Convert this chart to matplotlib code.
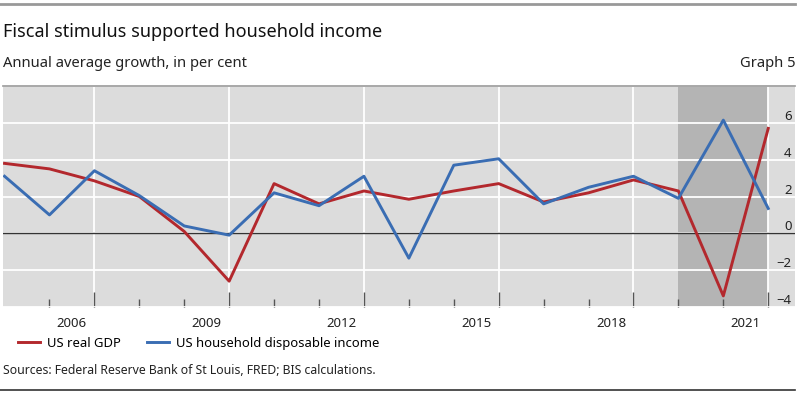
"""
Fiscal stimulus supported household income: US real GDP vs household disposable income growth.
"""

import matplotlib
matplotlib.use("Agg")
import matplotlib.pyplot as plt
from matplotlib.lines import Line2D

plt.rcParams['font.family'] = ['Noto Sans', 'DejaVu Sans']

# Data (annual growth, per cent).
years = [2004, 2005, 2006, 2007, 2008, 2009, 2010, 2011, 2012, 2013,
         2014, 2015, 2016, 2017, 2018, 2019, 2020, 2021]
real_gdp = [3.8, 3.5, 2.85, 2.0, 0.1, -2.6, 2.7, 1.6, 2.3, 1.85,
            2.3, 2.7, 1.7, 2.2, 2.9, 2.3, -3.4, 5.7]
disp_income = [3.1, 1.0, 3.4, 2.05, 0.4, -0.1, 2.2, 1.5, 3.1, -1.35,
               3.7, 4.05, 1.6, 2.5, 3.1, 1.9, 6.15, 1.35]
label_years = [2006, 2009, 2012, 2015, 2018, 2021]
yticks = [-4, -2, 0, 2, 4, 6]
shade = (2019, 2021)

RED = "#b3282d"
BLUE = "#3a6db3"

fig = plt.figure(figsize=(8, 3.93), dpi=100)
ax = fig.add_axes([0.004, 0.219, 0.99, 0.562])
ax.set_facecolor("#dcdcdc")

ax.axvspan(shade[0], shade[1], color="#b4b4b4", zorder=0.5, lw=0)
ax.axhline(0, color="#333333", lw=1.0, zorder=1.5)
ax.plot(years, real_gdp, color=RED, lw=2.1, zorder=3, label="US real GDP")
ax.plot(years, disp_income, color=BLUE, lw=2.1, zorder=3,
        label="US household disposable income")

ax.set_xlim(2003.97, 2021.6)
ax.set_ylim(-4, 8)

# Grid
ax.set_axisbelow(True)
ax.set_xticks(label_years)
ax.set_xticks(years[1:], minor=True)
ax.set_yticks(yticks + [8])
ax.grid(True, which="major", color="white", lw=1.3)
ax.tick_params(axis="x", which="major", direction="in", length=10.5, width=1.0,
               color="#555555", labelbottom=False)
ax.tick_params(axis="x", which="minor", direction="in", length=5.8, width=1.0,
               color="#555555")

# Year labels centred in each year
for y in label_years:
    ax.text(y - 0.5, -0.045, str(y), transform=ax.get_xaxis_transform(),
            ha="center", va="top", fontsize=9.5, color="#222222")

# y tick labels on the right, inside the plot, sitting above the gridlines
ax.yaxis.tick_right()
ax.tick_params(axis="y", length=0, pad=-2.5, labelsize=9.5, labelcolor="#222222")
ax.set_yticklabels([f"{v}".replace("-", "\u2212") for v in yticks] + [""])
for lab in ax.get_yticklabels():
    lab.set_horizontalalignment("right")
    lab.set_verticalalignment("bottom")

for s in ["left", "right", "bottom"]:
    ax.spines[s].set_visible(False)
ax.spines["top"].set_color("#999999")
ax.spines["top"].set_linewidth(1.2)

# Titles and frame lines
fig.add_artist(Line2D([0, 0.994], [0.99, 0.99], color="#999999", lw=2))
fig.add_artist(Line2D([0, 0.994], [0.008, 0.008], color="#333333", lw=1.2))
fig.text(0.004, 0.918, "Fiscal stimulus supported household income",
         fontsize=13, color="#111111", va="center")
fig.text(0.004, 0.838, "Annual average growth, in per cent",
         fontsize=10.6, color="#222222", va="center")
fig.text(0.994, 0.838, "Graph 5", fontsize=10.6, color="#222222",
         va="center", ha="right")

fig.legend(loc="center left", bbox_to_anchor=(0.0225, 0.127), ncol=2,
           frameon=False, fontsize=9.4, handlelength=1.7, handletextpad=0.55,
           columnspacing=1.95, borderpad=0, borderaxespad=0)

fig.text(0.004, 0.058, "Sources: Federal Reserve Bank of St Louis, FRED; BIS calculations.",
         fontsize=8.8, color="#222222", va="center")

plt.savefig("out.png", dpi=100)
